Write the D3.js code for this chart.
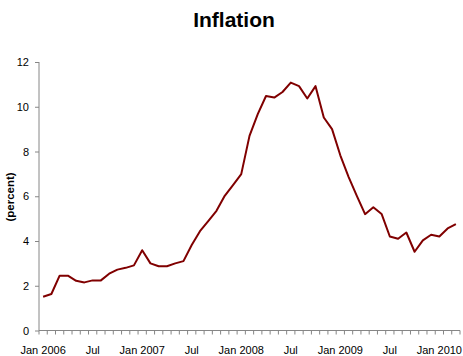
<!DOCTYPE html>
<html>
<head>
<meta charset="utf-8">
<script src="https://cdn.jsdelivr.net/npm/d3@7"></script>
<style>
  body { margin: 0; background: #fff; }
  svg { display: block; font-family: "Liberation Sans", Arial, sans-serif; }
</style>
</head>
<body>
<div id="chart"></div>
<script>
// Inflation, monthly Jan 2006 - Mar 2010 (percent)
const months = ["Jan","Feb","Mar","Apr","May","Jun","Jul","Aug","Sep","Oct","Nov","Dec"];
const years = [2006, 2007, 2008, 2009, 2010];
const inflation = [
  1.51, 1.63, 2.45, 2.45, 2.22, 2.15, 2.24, 2.24, 2.54, 2.72, 2.80, 2.91,
  3.59, 3.00, 2.87, 2.87, 3.00, 3.10, 3.82, 4.44, 4.89, 5.35, 6.02, 6.50,
  6.99, 8.70, 9.67, 10.48, 10.41, 10.66, 11.08, 10.92, 10.37, 10.92, 9.52, 9.00,
  7.83, 6.87, 6.02, 5.20, 5.51, 5.21, 4.20, 4.10, 4.38, 3.52, 4.03, 4.28,
  4.20, 4.56, 4.75
];
const yTicks = [0, 2, 4, 6, 8, 10, 12];

// build the category list (one per month)
const periods = inflation.map((v, i) => {
    const y = years[Math.floor(i / 12)];
    const m = months[i % 12];
    return { key: m + " " + y, month: i % 12, year: y, value: v };
});

const width = 463, height = 356;
const svg = d3.select("#chart").append("svg")
    .attr("width", width)
    .attr("height", height);

const x = d3.scaleBand()
    .domain(periods.map(d => d.key))
    .range([39, 460]);

const y = d3.scaleLinear()
    .domain([0, 12])
    .range([330.5, 62]);

const axisColor = "#868686";

// Title
svg.append("text")
    .attr("x", 234)
    .attr("y", 27)
    .attr("text-anchor", "middle")
    .style("font-size", "21px")
    .style("font-weight", "bold")
    .text("Inflation");

// Y axis
const yAxis = svg.append("g")
    .attr("transform", "translate(39,0)")
    .call(d3.axisLeft(y).tickValues(yTicks).tickSize(4).tickPadding(6).tickFormat(d3.format("d")))
    .attr("font-family", null)
    .attr("font-size", null);
yAxis.select(".domain").attr("stroke", axisColor).attr("d", `M0,${y(0)}V${y(12)}`);
yAxis.selectAll(".tick line").attr("stroke", axisColor);
yAxis.selectAll("text")
    .style("font-size", "11px")
    .attr("fill", "#000");

// X axis, ticks between months, labels every 6 months
const xAxis = svg.append("g")
    .attr("transform", `translate(0,${y(0)})`);
xAxis.append("line")
    .attr("x1", x.range()[0]).attr("x2", x.range()[1])
    .attr("stroke", axisColor);
xAxis.selectAll("line.tick")
    .data(periods.map(d => d.key).concat(["end"]))
    .enter().append("line")
    .attr("class", "tick")
    .attr("x1", (d, i) => i < periods.length ? x(d) : x.range()[1])
    .attr("x2", (d, i) => i < periods.length ? x(d) : x.range()[1])
    .attr("y1", 0).attr("y2", 4)
    .attr("stroke", axisColor);
xAxis.selectAll("text")
    .data(periods.filter(d => d.month % 6 === 0))
    .enter().append("text")
    .attr("x", d => x(d.key) + x.bandwidth() / 2)
    .attr("y", 23.5)
    .attr("text-anchor", "middle")
    .style("font-size", "11px")
    .text(d => d.month === 0 ? "Jan " + d.year : "Jul");

// Y axis title
svg.append("text")
    .attr("transform", "translate(14,197) rotate(-90)")
    .attr("text-anchor", "middle")
    .style("font-size", "11.5px")
    .style("font-weight", "bold")
    .text("(percent)");

// Line
const line = d3.line()
    .x(d => x(d.key) + x.bandwidth() / 2)
    .y(d => y(d.value));

svg.append("path")
    .datum(periods)
    .attr("fill", "none")
    .attr("stroke", "#800000")
    .attr("stroke-width", 2)
    .attr("stroke-linejoin", "round")
    .attr("d", line);
</script>
</body>
</html>
